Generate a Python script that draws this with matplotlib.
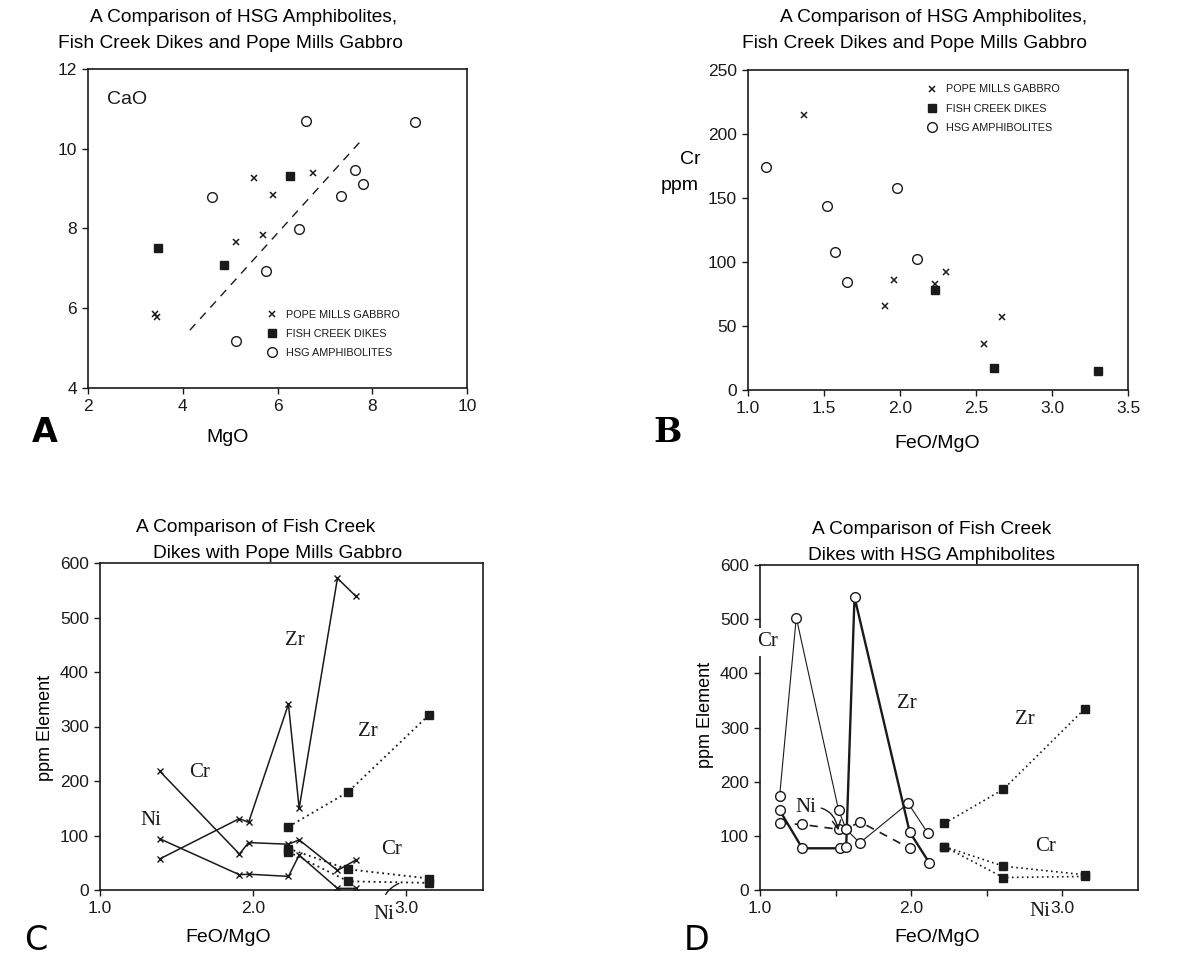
import matplotlib
matplotlib.use('Agg')
import matplotlib.pyplot as plt
from matplotlib.lines import Line2D

# ---------------- data ----------------
# Panel A : CaO vs MgO
a_pope_mgo = [3.42, 3.45, 5.12, 5.51, 5.70, 5.90, 6.74]
a_pope_cao = [5.85, 5.77, 7.67, 9.27, 7.84, 8.83, 9.38]
a_fish_mgo = [3.48, 4.87, 6.27]
a_fish_cao = [7.52, 7.09, 9.31]
a_hsg_mgo = [4.62, 5.13, 5.76, 6.45, 6.61, 7.33, 7.64, 7.81, 8.91]
a_hsg_cao = [8.79, 5.19, 6.93, 7.98, 10.69, 8.81, 9.47, 9.12, 10.67]
a_trend_mgo = [4.15, 7.80]
a_trend_cao = [5.45, 10.25]

# Panel B : Cr ppm vs FeO/MgO
b_pope_x = [1.37, 1.90, 1.96, 2.23, 2.30, 2.55, 2.67]
b_pope_cr = [215, 66, 86, 83, 92, 36, 57]
b_fish_x = [2.23, 2.62, 3.30]
b_fish_cr = [78, 17, 15]
b_hsg_x = [1.12, 1.52, 1.57, 1.65, 1.98, 2.11]
b_hsg_cr = [174, 144, 108, 84, 158, 102]

# Panel C : Fish Creek Dikes vs Pope Mills Gabbro
c_pope_x = [1.39, 1.91, 1.97, 2.23, 2.30, 2.55, 2.67]
c_pope_zr = [57, 131, 124, 341, 150, 572, 539]
c_pope_cr = [218, 66, 87, 84, 92, 36, 55]
c_pope_ni = [94, 28, 29, 25, 64, 3, 3]
c_fish_x = [2.23, 2.62, 3.15]
c_fish_zr = [116, 180, 322]
c_fish_cr = [76, 38, 21]
c_fish_ni = [70, 16, 13]

# Panel D : Fish Creek Dikes vs HSG Amphibolites
d_hsg_cr_x = [1.13, 1.24, 1.52, 1.57, 1.66, 1.98, 2.11]
d_hsg_cr = [174, 503, 147, 112, 87, 160, 105]
d_hsg_zr_x = [1.13, 1.28, 1.53, 1.57, 1.625, 1.99, 2.12]
d_hsg_zr = [147, 77, 77, 80, 541, 107, 50]
d_hsg_ni_x = [1.13, 1.28, 1.52, 1.57, 1.66, 1.99]
d_hsg_ni = [123, 121, 112, 112, 126, 77]
d_fish_x = [2.22, 2.61, 3.15]
d_fish_zr = [123, 186, 335]
d_fish_cr = [80, 44, 28]
d_fish_ni = [80, 23, 25]

legend_labels = ["POPE MILLS GABBRO", "FISH CREEK DIKES", "HSG AMPHIBOLITES"]

# ---------------- layout helpers ----------------
W, H = 1182, 961
plt.rcParams['font.family'] = ['Liberation Sans', 'DejaVu Sans']
fig = plt.figure(figsize=(W / 100, H / 100), dpi=100)
fig.patch.set_facecolor('white')


def box(l, t, r, b):
    return [l / W, 1 - b / H, (r - l) / W, (b - t) / H]


def ftext(x, y, s, **kw):
    kw.setdefault('ha', 'center')
    kw.setdefault('va', 'center')
    return fig.text(x / W, 1 - y / H, s, **kw)


INK = '#1a1a1a'
TSZ = 13.8
TICK = 12.5


def style(ax):
    for sp in ax.spines.values():
        sp.set_linewidth(1.2)
        sp.set_color(INK)
    ax.tick_params(direction='out', length=4, width=1, colors=INK,
                   labelsize=TICK, pad=4)


pope_kw = dict(ls='none', marker='x', ms=4, mew=1.1, color=INK)
fish_kw = dict(ls='none', marker='s', ms=5.5, color=INK)
hsg_kw = dict(ls='none', marker='o', ms=7, mfc='white', mec=INK, mew=1.0)


def legend(ax, x, y):
    handles = [Line2D([], [], **pope_kw), Line2D([], [], **fish_kw),
               Line2D([], [], **hsg_kw)]
    lg = ax.legend(handles, legend_labels, loc='upper left',
                   bbox_to_anchor=(x, y), frameon=False, fontsize=7.8,
                   handlelength=1.0, handletextpad=0.8, labelspacing=0.85,
                   borderaxespad=0, borderpad=0)
    for t in lg.get_texts():
        t.set_color(INK)


# ---------------- Panel A ----------------
axA = fig.add_axes(box(88, 69, 467, 388))
style(axA)
axA.plot(a_trend_mgo, a_trend_cao, ls=(0, (6, 5)), lw=1.0, color=INK)
axA.plot(a_pope_mgo, a_pope_cao, **pope_kw)
axA.plot(a_fish_mgo, a_fish_cao, **fish_kw)
axA.plot(a_hsg_mgo, a_hsg_cao, **hsg_kw)
axA.set_xlim(2, 10)
axA.set_ylim(4, 12)
axA.set_xticks([2, 4, 6, 8, 10])
axA.set_yticks([4, 6, 8, 10, 12])
axA.text(0.05, 0.905, "CaO", transform=axA.transAxes, fontsize=14,
         ha='left', va='center', color=INK)
legend(axA, 0.47, 0.245)
ftext(244, 18, "A Comparison of HSG Amphibolites,", fontsize=TSZ)
ftext(230, 43, "Fish Creek Dikes and Pope Mills Gabbro", fontsize=TSZ)
ftext(228, 438, "MgO", fontsize=14)
ftext(45, 432, "A", fontsize=24, fontweight='bold', family='DejaVu Sans')

# ---------------- Panel B ----------------
axB = fig.add_axes(box(748, 70, 1128, 390))
style(axB)
axB.plot(b_pope_x, b_pope_cr, **pope_kw)
axB.plot(b_fish_x, b_fish_cr, **fish_kw)
axB.plot(b_hsg_x, b_hsg_cr, **hsg_kw)
axB.set_xlim(1.0, 3.5)
axB.set_ylim(0, 250)
axB.set_xticks([1.0, 1.5, 2.0, 2.5, 3.0, 3.5])
axB.set_xticklabels(["1.0", "1.5", "2.0", "2.5", "3.0", "3.5"])
axB.set_yticks([0, 50, 100, 150, 200, 250])
legend(axB, 0.47, 0.955)
ftext(934, 18, "A Comparison of HSG Amphibolites,", fontsize=TSZ)
ftext(915, 43, "Fish Creek Dikes and Pope Mills Gabbro", fontsize=TSZ)
ftext(690, 160, "Cr", fontsize=14)
ftext(680, 186, "ppm", fontsize=14)
ftext(937, 443, "FeO/MgO", fontsize=14)
ftext(668, 432, "B", fontsize=24, fontweight='bold', family='DejaVu Serif')

# ---------------- Panel C ----------------
SERIF = ['Liberation Serif', 'DejaVu Serif']
axC = fig.add_axes(box(100, 563, 483, 890))
style(axC)
line_kw = dict(color=INK, lw=1.1)
for ys in (c_pope_zr, c_pope_cr, c_pope_ni):
    axC.plot(c_pope_x, ys, marker='x', ms=4, mew=1.0, **line_kw)
for ys in (c_fish_zr, c_fish_cr, c_fish_ni):
    axC.plot(c_fish_x, ys, ls=(0, (1, 2)), lw=1.3, color=INK,
             marker='s', ms=5.5)
axC.set_xlim(1.0, 3.5)
axC.set_ylim(0, 600)
axC.set_xticks([1.0, 2.0, 3.0])
axC.set_xticklabels(["1.0", "2.0", "3.0"])
axC.set_yticks([0, 100, 200, 300, 400, 500, 600])
lab = dict(fontsize=15, family=SERIF, color=INK, ha='center', va='center')
axC.text(2.27, 457, "Zr", **lab)
axC.text(2.75, 290, "Zr", **lab)
axC.text(1.65, 215, "Cr", **lab)
axC.text(1.33, 128, "Ni", **lab)
axC.text(2.90, 75, "Cr", **lab)
axC.annotate("Ni", xy=(2.95, 12), xytext=(2.85, -45), annotation_clip=False,
             arrowprops=dict(arrowstyle='-', color=INK, lw=1,
                             connectionstyle='arc3,rad=-0.4',
                             shrinkA=6, shrinkB=0), **lab)
ftext(256, 528, "A Comparison of Fish Creek", fontsize=TSZ)
ftext(278, 553, "Dikes with Pope Mills Gabbro", fontsize=TSZ)
ftext(46, 728, "ppm Element", fontsize=13, rotation=90)
ftext(228, 937, "FeO/MgO", fontsize=14)
ftext(36, 940, "C", fontsize=24, family='DejaVu Sans')

# ---------------- Panel D ----------------
axD = fig.add_axes(box(760, 565, 1138, 890))
style(axD)
axD.plot(d_hsg_cr_x, d_hsg_cr, color=INK, lw=0.8, zorder=2)
axD.plot(d_hsg_zr_x, d_hsg_zr, color=INK, lw=1.7, zorder=2)
axD.plot(d_hsg_ni_x, d_hsg_ni, color=INK, lw=1.2, ls=(0, (5, 4)), zorder=2)
for xs, ys in ((d_hsg_cr_x, d_hsg_cr), (d_hsg_zr_x, d_hsg_zr),
               (d_hsg_ni_x, d_hsg_ni)):
    axD.plot(xs, ys, zorder=3, **hsg_kw)
for ys in (d_fish_zr, d_fish_cr, d_fish_ni):
    axD.plot(d_fish_x, ys, ls=(0, (1, 2)), lw=1.2, color=INK,
             marker='s', ms=5.5)
axD.set_xlim(1.0, 3.5)
axD.set_ylim(0, 600)
axD.set_xticks([1.0, 1.5, 2.0, 2.5, 3.0])
axD.set_xticklabels(["1.0", "", "2.0", "", "3.0"])
axD.set_yticks([0, 100, 200, 300, 400, 500, 600])
axD.text(1.05, 458, "Cr", fontsize=15, family=SERIF, color=INK,
         ha='center', va='center', clip_on=False, zorder=5,
         bbox=dict(facecolor='white', edgecolor='none', pad=3))
axD.text(1.97, 345, "Zr", **lab)
axD.text(2.75, 315, "Zr", **lab)
axD.text(2.89, 80, "Cr", **lab)
axD.annotate("Ni", xy=(1.52, 105), xytext=(1.30, 153),
             arrowprops=dict(arrowstyle='->', color=INK, lw=1,
                             connectionstyle='arc3,rad=-0.5',
                             shrinkA=2, shrinkB=2), **lab)
axD.text(2.85, -40, "Ni", clip_on=False, **lab)
ftext(932, 530, "A Comparison of Fish Creek", fontsize=TSZ)
ftext(932, 556, "Dikes with HSG Amphibolites", fontsize=TSZ)
ftext(705, 715, "ppm Element", fontsize=13, rotation=90)
ftext(937, 937, "FeO/MgO", fontsize=14)
ftext(697, 940, "D", fontsize=24, family='DejaVu Sans')

fig.savefig("out.png", dpi=100, facecolor='white')
